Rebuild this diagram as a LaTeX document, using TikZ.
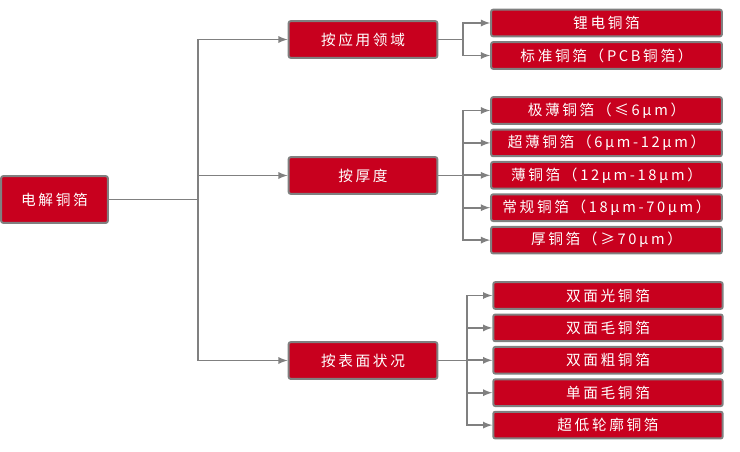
\documentclass[tikz,border=0pt]{standalone}
\usepackage{fontspec}
\usepackage{xcolor}
\setmainfont{Noto Sans CJK SC}
\newfontfamily\cjkfont[LetterSpace=18]{Noto Sans CJK SC}
\definecolor{boxred}{RGB}{200,0,30}
\definecolor{linegray}{RGB}{128,128,128}
\tikzset{
    box/.style={draw=linegray,line width=1.5pt,fill=boxred,rounded corners=1.5pt,
        text=white,font=\cjkfont\fontsize{11}{13}\selectfont,inner sep=0pt},
    link/.style={draw=linegray,line width=1.4pt},
}

\begin{document}
\begin{tikzpicture}[x=0.75pt,y=-0.75pt,>=latex]
    \useasboundingbox (0,0) rectangle (740,451);
    \node[box,minimum width=80pt,minimum height=35pt] (root) at (54.5,199.5) {电解铜箔};
    \foreach \n/\y/\t in {a/39.5/按应用领域,b/175.5/按厚度,c/360.5/按表面状况}{
    \node[box,minimum width=111.5pt,minimum height=27.5pt] (\n) at (363,\y) {\t};
    }
    \foreach \i/\t in {1/锂电铜箔,2/标准铜箔（PCB铜箔）}{
    \node[box,minimum width=173pt,minimum height=20pt] (a\i) at (606.5,23+32.5*\i-32.5) {\t};
    }
    \foreach \i/\t in {1/极薄铜箔（≤6μm）,2/超薄铜箔（6μm-12μm）,3/薄铜箔（12μm-18μm）,4/常规铜箔（18μm-70μm）,5/厚铜箔（≥70μm）}{
    \node[box,minimum width=173pt,minimum height=20pt] (b\i) at (606.5,110.5+32.4*\i-32.4) {\t};
    }
    \foreach \i/\t in {1/双面光铜箔,2/双面毛铜箔,3/双面粗铜箔,4/单面毛铜箔,5/超低轮廓铜箔}{
    \node[box,minimum width=172pt,minimum height=20pt] (c\i) at (608,295.5+32.4*\i-32.4) {\t};
    }
    % connectors
    \coordinate (j0) at (198,199.5);
    \coordinate (ja) at (463,39.5);
    \coordinate (jb) at (463,175.5);
    \coordinate (jc) at (467,360.5);
    \draw[link] (root.east) -- (j0);
    \foreach \n in {a,b,c}{
    \draw[link,->] (j0) |- (\n.west);
    \draw[link] (\n.east) -- (j\n);
    }
    \foreach \i in {1,2}{\draw[link,->] (ja) |- (a\i.west);}
    \foreach \i in {1,...,5}{
    \draw[link,->] (jb) |- (b\i.west);
    \draw[link,->] (jc) |- (c\i.west);
    }
\end{tikzpicture}
\end{document}
